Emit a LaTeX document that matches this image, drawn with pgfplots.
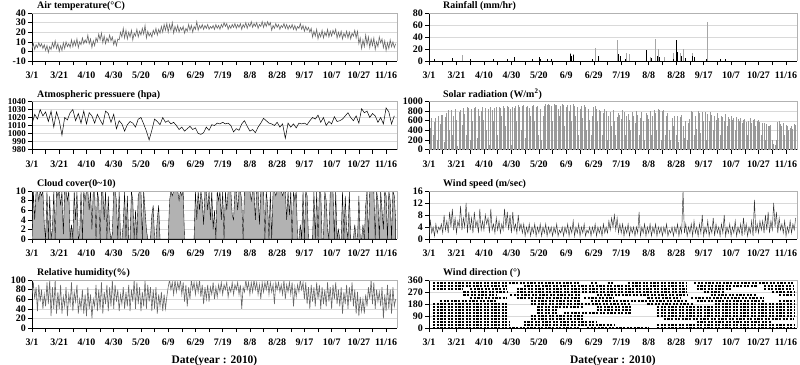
\documentclass[border=0pt]{standalone}
\usepackage{pgfplots}
\usepackage{pgfplotstable}
\usepackage{fontspec}
\setmainfont{Liberation Serif}
\pgfplotsset{compat=1.18}

% Air temperature: alternating daily low/high, day 0 = 3/1
\pgfplotstableread[header=false,row sep=\\]{3\\8\\2\\7\\4\\9\\5\\8\\3\\7\\1\\6\\-1\\5\\2\\9\\4\\11\\3\\8\\0\\6\\1\\9\\3\\10\\5\\8\\4\\12\\5\\11\\6\\13\\4\\10\\7\\14\\8\\12\\9\\17\\8\\13\\4\\11\\6\\14\\10\\18\\12\\19\\9\\16\\8\\14\\10\\17\\11\\15\\7\\12\\6\\13\\12\\20\\15\\24\\14\\22\\13\\20\\15\\22\\12\\19\\16\\23\\15\\21\\17\\24\\18\\27\\14\\21\\16\\19\\15\\22\\18\\24\\17\\23\\19\\26\\20\\28\\22\\29\\20\\28\\22\\30\\19\\26\\21\\27\\20\\25\\22\\26\\19\\24\\21\\28\\22\\27\\20\\26\\23\\31\\22\\27\\24\\28\\23\\27\\24\\28\\23\\26\\24\\27\\23\\28\\24\\27\\23\\28\\25\\30\\26\\29\\23\\27\\24\\28\\25\\29\\24\\28\\25\\29\\23\\28\\25\\30\\24\\29\\26\\31\\25\\29\\26\\30\\24\\28\\26\\31\\25\\30\\26\\31\\27\\30\\22\\27\\24\\29\\25\\28\\23\\27\\25\\29\\24\\28\\23\\27\\24\\28\\23\\27\\22\\26\\24\\29\\23\\27\\21\\26\\22\\25\\20\\24\\15\\21\\16\\23\\13\\19\\15\\22\\14\\20\\16\\23\\15\\21\\16\\22\\18\\23\\14\\20\\15\\21\\13\\19\\15\\21\\14\\20\\13\\19\\16\\22\\14\\21\\8\\14\\3\\12\\5\\17\\7\\15\\4\\13\\6\\14\\2\\10\\5\\15\\9\\13\\4\\11\\1\\9\\3\\12\\5\\10\\4\\8\\}\temp

% Atmospheric pressure: every 2 days
\pgfplotstableread[header=false,row sep=\\]{1012\\1024\\1018\\1030\\1022\\1027\\1015\\1028\\1008\\1027\\1016\\998\\1020\\1017\\1026\\1030\\1016\\1025\\1013\\1028\\1012\\1026\\1022\\1013\\1024\\1017\\1011\\1028\\1025\\1014\\1024\\1006\\1016\\1012\\1003\\1011\\1015\\1013\\1008\\1018\\1020\\1012\\1003\\992\\1004\\1018\\1015\\1011\\1020\\1014\\1016\\1012\\1014\\1010\\1005\\1008\\1003\\1006\\1009\\1005\\1007\\1000\\999\\1001\\1008\\1004\\1011\\1010\\1013\\1012\\1014\\1012\\1013\\1010\\1002\\1006\\1004\\1012\\1016\\1009\\1003\\1005\\1001\\1008\\1013\\1019\\1016\\1013\\1012\\1010\\1014\\1008\\1012\\994\\1013\\1008\\1012\\1007\\1013\\1012\\1013\\1011\\1016\\1020\\1018\\1023\\1014\\1020\\1010\\1015\\1012\\1021\\1015\\1016\\1018\\1022\\1026\\1020\\1016\\1022\\1013\\1031\\1026\\1028\\1020\\1025\\1022\\1014\\1020\\1012\\1032\\1027\\1012\\1022\\}\pres

% Solar radiation: daily peak
\pgfplotstableread[header=false,row sep=\\]{120\\450\\660\\300\\580\\650\\200\\700\\540\\710\\720\\150\\680\\760\\830\\400\\820\\300\\700\\850\\620\\80\\780\\820\\520\\860\\750\\300\\880\\860\\200\\850\\600\\870\\880\\250\\840\\690\\800\\880\\620\\860\\400\\850\\90\\880\\820\\600\\870\\890\\300\\880\\860\\700\\900\\870\\500\\910\\880\\850\\100\\880\\860\\910\\600\\920\\880\\400\\900\\930\\250\\880\\910\\870\\700\\900\\920\\600\\880\\910\\300\\850\\200\\700\\900\\940\\930\\950\\920\\900\\600\\940\\920\\930\\850\\700\\900\\940\\920\\500\\880\\920\\800\\930\\600\\940\\900\\700\\880\\300\\850\\900\\650\\920\\880\\400\\850\\620\\300\\700\\880\\910\\850\\600\\830\\800\\300\\760\\850\\810\\200\\700\\780\\500\\820\\600\\300\\680\\760\\720\\640\\820\\780\\300\\700\\750\\620\\400\\780\\700\\560\\800\\720\\300\\650\\780\\600\\200\\760\\720\\640\\800\\300\\700\\820\\760\\400\\850\\830\\200\\800\\820\\300\\700\\760\\400\\200\\650\\500\\700\\300\\700\\150\\680\\720\\500\\250\\600\\200\\550\\640\\800\\780\\300\\700\\420\\800\\760\\350\\780\\600\\780\\200\\750\\600\\780\\720\\400\\700\\620\\760\\650\\300\\700\\680\\600\\740\\500\\680\\640\\700\\620\\650\\400\\680\\640\\600\\650\\560\\620\\640\\580\\300\\600\\650\\560\\620\\640\\500\\600\\620\\580\\300\\550\\560\\200\\540\\500\\480\\520\\200\\120\\100\\200\\580\\600\\540\\500\\560\\300\\520\\480\\400\\450\\500\\420\\530\\520\\}\solar

% Cloud cover: daily
\pgfplotstableread[header=false,row sep=\\]{0\\10\\4\\10\\10\\8\\10\\9\\10\\3\\0\\10\\0\\9\\0\\2\\10\\0\\10\\9\\10\\7\\10\\1\\10\\10\\8\\10\\0\\3\\0\\10\\4\\10\\0\\1\\10\\0\\10\\8\\10\\10\\6\\10\\2\\10\\10\\0\\10\\8\\0\\10\\10\\4\\10\\0\\9\\2\\0\\1\\10\\10\\8\\0\\10\\0\\0\\3\\10\\0\\9\\0\\0\\10\\8\\0\\6\\0\\9\\10\\10\\0\\10\\6\\2\\0\\0\\0\\5\\7\\0\\0\\4\\7\\0\\0\\0\\0\\0\\0\\0\\8\\10\\9\\10\\10\\10\\10\\8\\10\\9\\10\\0\\0\\0\\0\\0\\0\\0\\0\\10\\4\\10\\6\\10\\8\\3\\10\\10\\6\\10\\4\\10\\2\\6\\0\\10\\8\\10\\4\\10\\0\\10\\6\\10\\10\\10\\5\\4\\10\\10\\6\\10\\10\\8\\0\\10\\10\\10\\10\\10\\8\\10\\10\\4\\10\\10\\3\\10\\10\\10\\0\\10\\7\\0\\10\\0\\10\\10\\9\\10\\10\\10\\10\\9\\10\\10\\4\\10\\5\\10\\0\\10\\8\\10\\0\\0\\3\\0\\10\\0\\10\\9\\0\\0\\0\\0\\10\\0\\10\\0\\10\\10\\0\\0\\10\\8\\2\\0\\10\\10\\10\\0\\10\\0\\2\\0\\0\\10\\0\\9\\2\\0\\10\\0\\0\\0\\3\\0\\0\\9\\0\\0\\3\\0\\7\\10\\0\\10\\10\\10\\10\\0\\10\\8\\0\\10\\6\\2\\10\\9\\0\\10\\8\\0\\10\\9\\4\\}\cloud

% Wind speed: alternating daily low/high
\pgfplotstableread[header=false,row sep=\\]{1\\6\\2\\4\\1\\5\\2\\4\\3\\5\\2\\8\\3\\6\\2\\9\\4\\10\\3\\7\\2\\6\\4\\11\\3\\7\\4\\12\\2\\9\\3\\7\\2\\9\\4\\6\\2\\10\\3\\6\\3\\8\\5\\7\\2\\10\\3\\5\\2\\7\\3\\6\\2\\5\\3\\10\\4\\9\\3\\8\\2\\9\\3\\5\\2\\8\\3\\5\\2\\5\\1\\4\\2\\5\\1\\4\\2\\5\\1\\4\\2\\5\\1\\4\\2\\5\\1\\4\\2\\4\\1\\4\\2\\5\\1\\3\\2\\4\\1\\4\\2\\5\\1\\4\\2\\6\\1\\4\\2\\5\\1\\4\\2\\5\\1\\3\\2\\4\\1\\4\\2\\5\\1\\4\\2\\4\\1\\5\\2\\4\\2\\6\\3\\7\\4\\8\\3\\7\\2\\5\\2\\5\\1\\4\\2\\5\\1\\4\\2\\4\\1\\4\\2\\9\\1\\4\\2\\5\\1\\4\\2\\5\\1\\4\\2\\5\\1\\4\\2\\4\\1\\4\\2\\5\\1\\3\\2\\4\\1\\4\\2\\5\\1\\4\\2\\16\\2\\5\\1\\4\\2\\5\\1\\6\\2\\4\\1\\5\\2\\8\\1\\4\\2\\6\\1\\4\\2\\7\\1\\5\\2\\4\\1\\5\\2\\8\\1\\4\\2\\5\\1\\4\\2\\6\\1\\4\\2\\5\\1\\7\\2\\5\\1\\4\\2\\6\\1\\13\\2\\5\\2\\6\\3\\6\\2\\8\\3\\9\\2\\6\\3\\12\\4\\9\\2\\7\\3\\5\\2\\6\\1\\4\\2\\6\\2\\5\\3\\7\\}\wind

% Relative humidity: alternating daily low/high
\pgfplotstableread[header=false,row sep=\\]{70\\95\\60\\85\\35\\90\\55\\80\\40\\70\\45\\95\\50\\100\\25\\85\\40\\100\\30\\75\\40\\90\\30\\65\\45\\85\\25\\70\\50\\95\\35\\75\\55\\90\\30\\60\\40\\80\\30\\70\\25\\85\\40\\70\\20\\60\\45\\90\\35\\80\\40\\95\\30\\75\\50\\90\\35\\85\\45\\100\\40\\90\\55\\80\\35\\70\\50\\85\\40\\75\\45\\90\\35\\80\\55\\100\\40\\95\\50\\85\\35\\75\\45\\100\\40\\90\\55\\85\\35\\80\\40\\85\\30\\70\\45\\75\\35\\70\\40\\65\\85\\100\\80\\95\\70\\100\\75\\95\\80\\100\\70\\95\\55\\90\\45\\85\\60\\100\\80\\95\\70\\95\\75\\100\\65\\90\\50\\85\\60\\90\\55\\85\\70\\95\\60\\85\\65\\90\\75\\95\\70\\90\\80\\95\\65\\85\\75\\95\\70\\90\\80\\95\\70\\90\\40\\85\\75\\100\\80\\95\\70\\95\\75\\100\\80\\95\\70\\90\\60\\95\\75\\95\\80\\100\\70\\95\\75\\90\\50\\95\\80\\95\\75\\90\\70\\100\\60\\90\\75\\95\\70\\95\\45\\85\\65\\90\\75\\100\\80\\95\\60\\95\\50\\85\\40\\90\\55\\85\\45\\95\\60\\90\\40\\85\\50\\80\\45\\95\\55\\85\\40\\90\\60\\95\\50\\80\\45\\85\\30\\75\\50\\90\\40\\85\\55\\95\\45\\80\\30\\75\\25\\65\\35\\60\\30\\70\\45\\85\\60\\100\\50\\95\\40\\80\\55\\75\\45\\85\\20\\70\\35\\90\\40\\80\\30\\85\\45\\60\\}\rh

\newcommand{\lf}{\bfseries\fontsize{10}{12}\selectfont}

\pgfplotsset{
  panel/.style={
    scale only axis, width=#1, height=48bp,
    xmin=0, xmax=268,
    axis x line*=bottom, axis y line*=left,
    axis line style={black, line width=0.5bp},
    xtick={0,20,...,260},
    xticklabels={3/1,3/21,4/10,4/30,5/20,6/9,6/29,7/19,8/8,8/28,9/17,10/7,10/27,11/16},
    minor xtick={10,30,...,250},
    tick align=outside,
    major tick length=4bp, minor tick length=4bp,
    tick style={black, line width=0.5bp},
    xticklabel style={yshift=-6bp, inner sep=1bp},
    yticklabel style={inner sep=0.4bp, xshift=-1.5bp},
    tick label style={font=\lf},
    /pgf/number format/assume math mode=true,
    /pgf/number format/1000 sep={},
    scaled y ticks=false,
    ymajorgrids, grid style={gray!30, line width=0.4bp},
    title style={at={(0,1)}, anchor=base west, xshift=5bp, yshift=-1.5bp, inner sep=0pt, font=\lf},
    after end axis/.code={\draw[gray!60, line width=0.5bp] (rel axis cs:0,1) -- (rel axis cs:1,1) -- (rel axis cs:1,0);},
  },
  datelabel/.style={xlabel={Date(year : 2010)},
    xlabel style={at={(axis description cs:0.5,0)}, anchor=center, yshift=-33bp, inner sep=0pt, font=\bfseries\fontsize{11.5}{13}\selectfont}},
  wd/.style={black, line width=1.6bp, dash pattern=on 2.2bp off 1.4bp, no marks},
}

\begin{document}
\begin{tikzpicture}
\useasboundingbox (0,0) rectangle (800bp,-365bp);

% ---------- Left column ----------
\begin{axis}[panel=365bp, at={(32bp,-13bp)}, anchor=north west,
  ymin=-10, ymax=40, ytick={-10,0,...,40},
  title={Air temperature(°C)}]
\addplot[black!60, line width=0.6bp, no marks] table[x expr=\coordindex, y index=0] {\temp};
\end{axis}

\begin{axis}[panel=365bp, at={(32bp,-101.5bp)}, anchor=north west,
  ymin=980, ymax=1040, ytick={980,990,...,1040},
  yticklabel style={font=\bfseries\fontsize{9}{10}\selectfont},
  title={Atmospheric pressuere (hpa)}]
\addplot[black, line width=0.5bp, no marks] table[x expr=2*\coordindex, y index=0] {\pres};
\end{axis}

\begin{axis}[panel=365bp, at={(32bp,-191bp)}, anchor=north west,
  ymin=0, ymax=10, ytick={0,2,...,10},
  title={Cloud cover(0\textasciitilde10)}]
\addplot[draw=black, line width=0.35bp, fill=gray!60, no marks] table[x expr=\coordindex, y index=0] {\cloud} \closedcycle;
\end{axis}

\begin{axis}[panel=365bp, at={(32bp,-280bp)}, anchor=north west,
  ymin=0, ymax=100, ytick={0,20,...,100},
  title={Relative humidity(\%)}, datelabel]
\addplot[black!60, line width=0.6bp, no marks] table[x expr=\coordindex, y index=0] {\rh};
\end{axis}

% ---------- Right column ----------
\begin{axis}[panel=368bp, at={(429bp,-13bp)}, anchor=north west,
  ymin=0, ymax=80, ytick={0,20,...,80},
  title={Rainfall (mm/hr)}, title style={xshift=9bp}]
\addplot[ycomb, gray!70, line width=0.6bp, no marks] coordinates {
(24,10) (103,13) (105,12) (121,22) (137,35) (144,14) (146,12) (161,7) (165,37) (167,20) (171,7) (178,13) (183,14) (185,20) (192,13) (203,65)};
\addplot[ycomb, black, line width=0.7bp, no marks] coordinates {
(4,3) (17,5) (30,4) (47,3) (57,3) (62,6) (75,3) (80,7) (81,3) (86,3) (89,3) (103,12) (104,8) (105,10) (119,3) (123,9) (138,12) (139,8) (143,3) (158,18) (162,5) (166,8) (168,6) (178,4) (180,35) (181,15) (184,8) (187,5) (192,8) (193,6) (202,4) (212,3) (216,4)};
\end{axis}

\begin{axis}[panel=368bp, at={(429bp,-101.5bp)}, anchor=north west,
  ymin=0, ymax=1000, ytick={0,200,...,1000},
  title={Solar radiation (W/m\textsuperscript{2})}, title style={xshift=9bp}]
\addplot[ycomb, gray!80, line width=0.9bp, no marks] table[x expr=\coordindex, y index=0] {\solar};
\end{axis}

\begin{axis}[panel=368bp, at={(429bp,-191bp)}, anchor=north west,
  ymin=0, ymax=16, ytick={0,4,...,16},
  title={Wind speed (m/sec)}, title style={xshift=9bp}]
\addplot[black!80, line width=0.45bp, no marks] table[x expr=\coordindex, y index=0] {\wind};
\end{axis}

\begin{axis}[panel=368bp, at={(429bp,-280bp)}, anchor=north west,
  ymin=0, ymax=360, ytick={0,90,...,360},
  title={Wind direction (°)}, title style={xshift=9bp}, datelabel,
  unbounded coords=jump]
\addplot[wd] coordinates {
(3,337.5)(110,337.5)(110,nan)(118,337.5)(122,337.5)(122,nan)(130,337.5)(135,337.5)(135,nan)(145,337.5)(188,337.5)(188,nan)(193,337.5)(266,337.5)};
\addplot[wd] coordinates {
(3,315)(57,315)(57,nan)(69,315)(188,315)(188,nan)(195,315)(239,315)(239,nan)(244,315)(266,315)};
\addplot[wd] coordinates {
(3,292.5)(25,292.5)(25,nan)(30,292.5)(57,292.5)(57,nan)(64,292.5)(188,292.5)(188,nan)(195,292.5)(220,292.5)(220,nan)(244,292.5)(266,292.5)};
\addplot[wd] coordinates {
(25,270)(57,270)(57,nan)(64,270)(188,270)(188,nan)(200,270)(215,270)(215,nan)(250,270)(266,270)};
\addplot[wd] coordinates {
(25,247.5)(49,247.5)(49,nan)(59,247.5)(110,247.5)(110,nan)(122,247.5)(188,247.5)(188,nan)(205,247.5)(239,247.5)(239,nan)(255,247.5)(266,247.5)};
\addplot[wd] coordinates {
(30,225)(57,225)(57,nan)(64,225)(110,225)(110,nan)(113,225)(135,225)(135,nan)(159,225)(183,225)(183,nan)(191,225)(244,225)};
\addplot[wd] coordinates {
(8,202.5)(49,202.5)(49,nan)(74,202.5)(110,202.5)(110,nan)(118,202.5)(188,202.5)(188,nan)(195,202.5)(244,202.5)(244,nan)(255,202.5)(266,202.5)};
\addplot[wd] coordinates {
(3,180)(57,180)(57,nan)(74,180)(147,180)(147,nan)(159,180)(193,180)(193,nan)(208,180)(266,180)};
\addplot[wd] coordinates {
(3,157.5)(57,157.5)(57,nan)(79,157.5)(113,157.5)(113,nan)(122,157.5)(147,157.5)(147,nan)(166,157.5)(266,157.5)};
\addplot[wd] coordinates {
(3,135)(57,135)(57,nan)(79,135)(93,135)(93,nan)(122,135)(147,135)(147,nan)(166,135)(266,135)};
\addplot[wd] coordinates {
(3,112.5)(57,112.5)(57,nan)(79,112.5)(93,112.5)(93,nan)(98,112.5)(147,112.5)(147,nan)(166,112.5)(266,112.5)};
\addplot[wd] coordinates {
(3,90)(57,90)(57,nan)(74,90)(113,90)(113,nan)(166,90)(266,90)};
\addplot[wd] coordinates {
(3,67.5)(57,67.5)(57,nan)(74,67.5)(113,67.5)(113,nan)(171,67.5)(266,67.5)};
\addplot[wd] coordinates {
(3,45)(59,45)(59,nan)(69,45)(122,45)(122,nan)(195,45)(249,45)};
\addplot[wd] coordinates {
(3,22.5)(59,22.5)(59,nan)(69,22.5)(135,22.5)(135,nan)(166,22.5)(266,22.5)};
\addplot[wd] coordinates {
(3,2)(110,2)(110,nan)(115,2)(160,2)(160,nan)(166,2)(266,2)};
\end{axis}
\end{tikzpicture}
\end{document}
